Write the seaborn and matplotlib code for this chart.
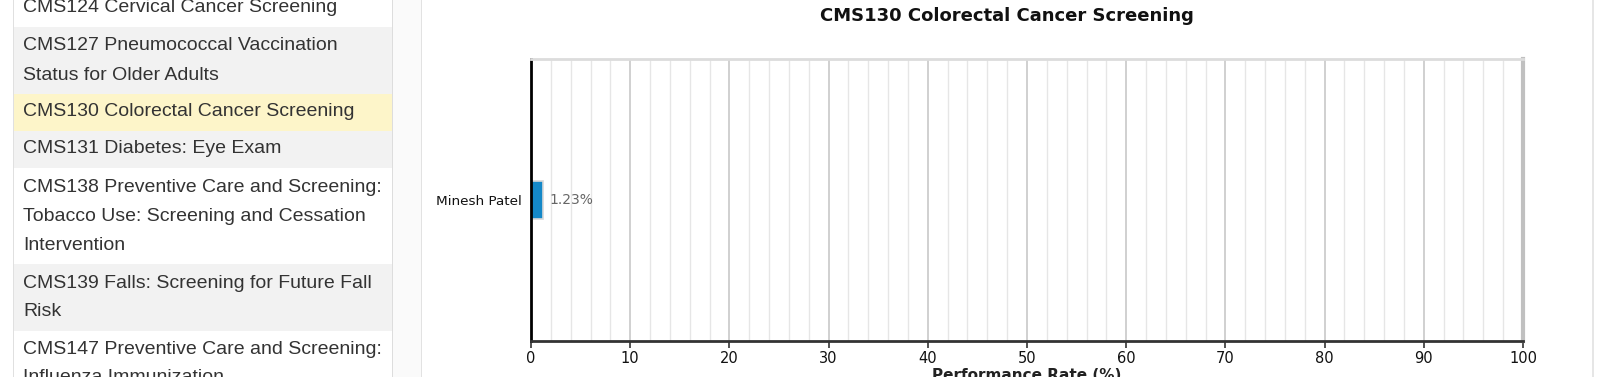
import numpy as np
import pandas as pd
import matplotlib
matplotlib.use("Agg")
import matplotlib.pyplot as plt
from matplotlib.patches import Rectangle
import seaborn as sns

# ---- data ----
providers = ["Minesh Patel"]
rates = [1.23]
chart_title = "CMS130 Colorectal Cancer Screening"
x_label = "Performance Rate (%)"
x_major = list(range(0, 101, 10))
x_minor = list(range(0, 101, 2))

menu_items = [
    ["CMS124 Cervical Cancer Screening"],
    ["CMS127 Pneumococcal Vaccination", "Status for Older Adults"],
    ["CMS130 Colorectal Cancer Screening"],
    ["CMS131 Diabetes: Eye Exam"],
    ["CMS138 Preventive Care and Screening:", "Tobacco Use: Screening and Cessation", "Intervention"],
    ["CMS139 Falls: Screening for Future Fall", "Risk"],
    ["CMS147 Preventive Care and Screening:", "Influenza Immunization"],
]
selected_item = 2

sns.set_theme(style="white")
plt.rcParams["font.family"] = ["DejaVu Sans"]

W, H = 1600, 377
fig = plt.figure(figsize=(W / 100, H / 100), dpi=100)
fig.patch.set_facecolor("white")

def fx(px):
    return px / W

def fy(py):
    return 1 - py / H

# ---- page background / panels ----
fig.patches.append(Rectangle((fx(392), 0), fx(30), 1, transform=fig.transFigure,
                             facecolor="#fafafa", edgecolor="none", zorder=0))
fig.patches.append(Rectangle((fx(392), 0), fx(1.2), 1, transform=fig.transFigure,
                             facecolor="#dddddd", edgecolor="none", zorder=1))
fig.patches.append(Rectangle((fx(421), 0), fx(1.5), 1, transform=fig.transFigure,
                             facecolor="#e2e2e2", edgecolor="none", zorder=1))
fig.patches.append(Rectangle((fx(1592), 0), fx(1.5), 1, transform=fig.transFigure,
                             facecolor="#e6e6e6", edgecolor="none", zorder=1))
fig.patches.append(Rectangle((fx(13), 0), fx(1.2), 1, transform=fig.transFigure,
                             facecolor="#e0e0e0", edgecolor="none", zorder=1))

# ---- sidebar list ----
row_bounds = [(-10, 27), (27, 94), (94, 131), (131, 168), (168, 264), (264, 331), (331, 400)]
row_colors = ["white", "#f2f2f2", "#fdf5c9", "#f2f2f2", "white", "#f2f2f2", "white"]
line_h = 29
for i, (lines, (y0, y1)) in enumerate(zip(menu_items, row_bounds)):
    col = row_colors[i]
    fig.patches.append(Rectangle((fx(14), fy(y1)), fx(378), (y1 - y0) / H,
                                 transform=fig.transFigure, facecolor=col,
                                 edgecolor="none", zorder=0.5))
    first = {0: 8, 1: 46, 2: 112, 3: 149, 4: 187, 5: 283, 6: 349}[i]
    for j, line in enumerate(lines):
        fig.text(fx(23), fy(first + j * line_h), line, ha="left", va="center",
                 fontsize=14, color="#333333", family=["Liberation Sans", "DejaVu Sans"])

# ---- chart ----
ax = fig.add_axes([fx(531), fy(341), fx(1523 - 531), (341 - 59) / H])
df = pd.DataFrame({"provider": providers, "rate": rates})
sns.barplot(data=df, x="rate", y="provider", orient="h", width=0.138,
            color="#1488c8", saturation=1, edgecolor="#d8d8d8", linewidth=1.2, ax=ax)
ax.set_xlim(0, 100)
ax.set_ylim(0.5, -0.5)

ax.set_xticks(x_major)
ax.set_xticks(x_minor, minor=True)
ax.set_xticklabels([str(v) for v in x_major], fontsize=10.5, color="#111111")
ax.tick_params(axis="x", which="major", direction="out", length=5, width=1.2,
               color="#333333", pad=2, bottom=True)
ax.tick_params(axis="x", which="minor", length=0)
ax.tick_params(axis="y", length=0, pad=7, labelsize=9.7, labelcolor="#111111")
ax.grid(axis="x", which="major", color="#c8c8c8", linewidth=1.2, zorder=0)
ax.grid(axis="x", which="minor", color="#e6e6e6", linewidth=1.0, zorder=0)
ax.set_axisbelow(True)
ax.set_xlabel("")
ax.set_ylabel("")

for side, c, lw in [("left", "black", 2.0), ("bottom", "#333333", 2.0),
                    ("top", "#dcdcdc", 2.0), ("right", "#c0c0c0", 3.0)]:
    ax.spines[side].set_visible(True)
    ax.spines[side].set_color(c)
    ax.spines[side].set_linewidth(lw)

ax.bar_label(ax.containers[0], labels=[f"{v:.2f}%" for v in rates], padding=4.5,
             fontsize=10, color="#666666")

fig.text(fx(1007), fy(16), chart_title, ha="center", va="center",
         fontsize=13, fontweight="bold", color="#111111")
fig.text(fx(1027), fy(368), x_label, ha="center", va="top",
         fontsize=11, fontweight="bold", color="#222222")

fig.savefig("out.png", dpi=100)
